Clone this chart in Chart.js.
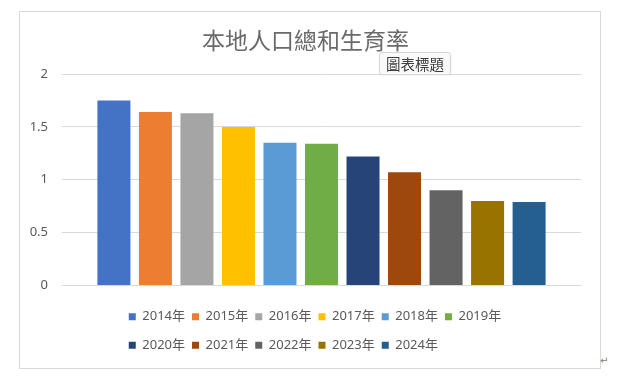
<!DOCTYPE html>
<html>
<head>
<meta charset="utf-8">
<script src="https://cdn.jsdelivr.net/npm/chart.js@4.4.1/dist/chart.umd.min.js"></script>
<style>
html,body{margin:0;padding:0;background:#fff;width:629px;height:380px;overflow:hidden;}
#frame{position:absolute;left:19px;top:11px;width:580px;height:356px;border:1px solid #d9d9d9;}
#c{display:block;}
#tip{position:absolute;left:379px;top:52px;width:72px;height:23px;box-sizing:border-box;border:1px solid #d6d6d6;border-radius:3px;background:#f9f9f9;font:14.5px 'Noto Sans CJK TC',sans-serif;color:#3c3c3c;line-height:21px;text-align:center;box-shadow:0 1px 2px rgba(0,0,0,0.06);}
#ret{position:absolute;left:600px;top:355px;font:10px 'DejaVu Sans',sans-serif;color:#808080;}
</style>
</head>
<body>
<div id="frame"><canvas id="c" width="580" height="356"></canvas></div>
<div id="tip">圖表標題</div>
<div id="ret">↵</div>
<script>
// ---- data ----
const chartTitle = '本地人口總和生育率';
const years = ['2014年', '2015年', '2016年', '2017年', '2018年', '2019年', '2020年', '2021年', '2022年', '2023年', '2024年'];
const rates = [1.75, 1.64, 1.63, 1.50, 1.35, 1.34, 1.22, 1.07, 0.90, 0.80, 0.79];
const barColors = ['#4472C4', '#ED7D31', '#A5A5A5', '#FFC000', '#5B9BD5', '#70AD47', '#264478', '#9E480E', '#636363', '#997300', '#255E91'];
const yTickLabels = ['0', '0.5', '1', '1.5', '2'];
const yMin = 0, yMax = 2, yStep = 0.5;
const legendRows = [6, 5];

// ---- styling constants ----
const TEXT = '#595959';
const GRID = '#d9d9d9';
const FAMILY = "'Noto Sans', 'Noto Sans CJK TC', sans-serif";
const LEGEND_FS = 13;
const ROW_GAP = 28.5;

Chart.defaults.font.family = FAMILY;
Chart.defaults.color = TEXT;

const datasets = years.map((y, i) => ({
  label: y,
  data: [rates[i]],
  backgroundColor: barColors[i],
  borderWidth: 0,
  categoryPercentage: 0.88,
  barPercentage: 0.795
}));

// Excel-style legend rows: first row centred, following rows start at same x
const legendRowsPlugin = {
  id: 'legendRows',
  afterLayout(chart) {
    const lg = chart.legend;
    if (!lg || lg._rowsPatched) return;
    lg._rowsPatched = true;
    const orig = lg._draw;
    lg._draw = function () {
      const all = this.legendItems;
      const L = this.left, T = this.top;
      const lab = this.options.labels;
      const pad = lab.padding;
      const ctx = this.ctx;
      ctx.save();
      ctx.font = LEGEND_FS + 'px ' + FAMILY;
      const rows = [];
      let idx = 0;
      legendRows.forEach(n => { rows.push(all.slice(idx, idx + n)); idx += n; });
      const rowW = items => items.reduce((s, it) => s + lab.boxWidth + LEGEND_FS / 2 + ctx.measureText(it.text).width + pad, 0) - pad;
      const startX = (chart.width - rowW(rows[0])) / 2 + 5;
      ctx.restore();
      rows.forEach((items, r) => {
        this.legendItems = items;
        this.left = startX - pad;
        this.top = T + r * ROW_GAP;
        orig.call(this);
      });
      this.legendItems = all;
      this.left = L;
      this.top = T;
    };
  }
};

new Chart(document.getElementById('c'), {
  type: 'bar',
  data: { labels: [''], datasets },
  options: {
    responsive: false,
    animation: false,
    layout: { padding: { left: 10, right: 19, top: 0, bottom: 14.8 } },
    scales: {
      x: {
        grid: { display: false },
        border: { display: false },
        ticks: { display: false },
        afterFit: s => { s.height = 17.7; }
      },
      y: {
        min: yMin,
        max: yMax,
        ticks: {
          stepSize: yStep,
          padding: 14,
          color: TEXT,
          font: { size: 13 },
          callback: (v, i) => yTickLabels[i]
        },
        grid: { color: GRID, drawTicks: false, lineWidth: 1 },
        border: { display: false },
        afterFit: s => { s.width = 32; }
      }
    },
    plugins: {
      title: {
        display: true,
        text: chartTitle,
        color: '#6a6a6a',
        font: { family: "'Noto Sans CJK TC', sans-serif", size: 23, weight: 'normal' },
        padding: { top: 14.2, bottom: 20.2 }
      },
      legend: {
        display: true,
        position: 'bottom',
        align: 'start',
        labels: {
          boxWidth: 7,
          boxHeight: 7,
          padding: 7,
          color: TEXT,
          font: { size: LEGEND_FS }
        }
      },
      tooltip: { enabled: false }
    }
  },
  plugins: [legendRowsPlugin]
});
</script>
</body>
</html>
